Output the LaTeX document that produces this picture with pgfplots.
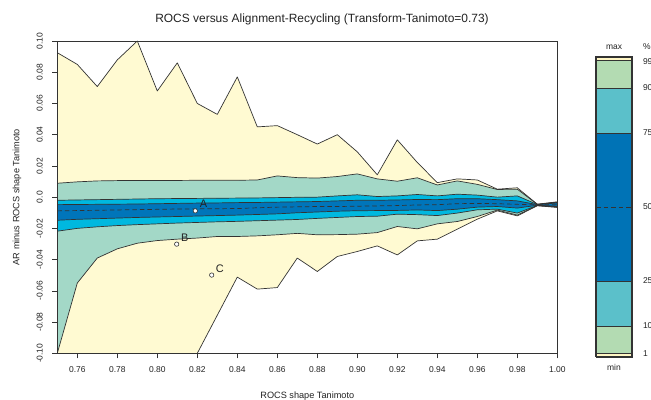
\documentclass[border=0pt]{standalone}
\usepackage{fontspec}
\setmainfont{Liberation Sans}
\usepackage{pgfplots}
\pgfplotsset{compat=1.18}
\usepackage{pgfplotstable}
\usepgfplotslibrary{fillbetween}

\definecolor{cYel}{HTML}{FFFAD2}
\definecolor{cTeal}{HTML}{A3D8C7}
\definecolor{cCyan}{HTML}{00B8DF}
\definecolor{cBlue}{HTML}{0075BA}
\definecolor{lYel}{HTML}{FFF6C4}
\definecolor{lGreen}{HTML}{B3DBB2}
\definecolor{lCyan}{HTML}{5BC0CA}
\definecolor{lBlue}{HTML}{0073B6}
\definecolor{lineC}{HTML}{333333}
\definecolor{txtC}{HTML}{222222}

\pgfplotstableread{
x     mx      p99     p90     p75     med     p25     p10     p1      mn
0.75  0.0925  0.0089 -0.0020 -0.0048 -0.0088 -0.0148 -0.0218 -0.1000 -0.1300
0.76  0.0850  0.0098 -0.0018 -0.0047 -0.0086 -0.0142 -0.0200 -0.0550 -0.1300
0.77  0.0708  0.0104 -0.0016 -0.0046 -0.0084 -0.0138 -0.0190 -0.0390 -0.1300
0.78  0.0879  0.0106 -0.0014 -0.0045 -0.0082 -0.0134 -0.0182 -0.0331 -0.1300
0.79  0.1000  0.0106 -0.0012 -0.0044 -0.0080 -0.0130 -0.0176 -0.0295 -0.1300
0.80  0.0680  0.0106 -0.0010 -0.0042 -0.0078 -0.0127 -0.0171 -0.0278 -0.1300
0.81  0.0860  0.0107 -0.0009 -0.0040 -0.0076 -0.0124 -0.0166 -0.0269 -0.1300
0.82  0.0600  0.0108 -0.0008 -0.0038 -0.0075 -0.0121 -0.0162 -0.0262 -0.1000
0.83  0.0530  0.0108 -0.0007 -0.0037 -0.0074 -0.0118 -0.0158 -0.0252 -0.0756
0.84  0.0770  0.0108 -0.0006 -0.0035 -0.0073 -0.0115 -0.0155 -0.0252 -0.0512
0.85  0.0450  0.0110 -0.0005 -0.0034 -0.0068 -0.0111 -0.0151 -0.0248 -0.0589
0.86  0.0458  0.0136 -0.0003 -0.0032 -0.0064 -0.0107 -0.0147 -0.0241 -0.0579
0.87  0.0400  0.0125 -0.0001 -0.0030 -0.0062 -0.0100 -0.0143 -0.0232 -0.0390
0.88  0.0340  0.0122  0.0000 -0.0028 -0.0060 -0.0095 -0.0136 -0.0241 -0.0476
0.89  0.0400  0.0132  0.0008 -0.0024 -0.0060 -0.0090 -0.0130 -0.0240 -0.0380
0.90  0.0290  0.0149  0.0015 -0.0020 -0.0058 -0.0087 -0.0124 -0.0237 -0.0348
0.91  0.0143  0.0117  0.0004 -0.0020 -0.0056 -0.0086 -0.0122 -0.0227 -0.0312
0.92  0.0367  0.0102  0.0008 -0.0018 -0.0054 -0.0085 -0.0109 -0.0188 -0.0370
0.93  0.0222  0.0124  0.0017 -0.0015 -0.0050 -0.0082 -0.0112 -0.0203 -0.0280
0.94  0.0093  0.0078  0.0008 -0.0016 -0.0048 -0.0086 -0.0118 -0.0171 -0.0269
0.95  0.0117  0.0104  0.0019 -0.0010 -0.0042 -0.0077 -0.0102 -0.0156 -0.0205
0.96  0.0110  0.0082  0.0013 -0.0010 -0.0040 -0.0064 -0.0081 -0.0124 -0.0141
0.97  0.0051  0.0049  0.0000 -0.0016 -0.0042 -0.0060 -0.0077 -0.0083 -0.0088
0.98  0.0060  0.0051  0.0008 -0.0024 -0.0046 -0.0070 -0.0102 -0.0115 -0.0120
0.99 -0.0045 -0.0046 -0.0047 -0.0048 -0.0050 -0.0052 -0.0053 -0.0054 -0.0055
1.00 -0.0030 -0.0032 -0.0034 -0.0037 -0.0048 -0.0058 -0.0061 -0.0064 -0.0066
}\bands

\begin{document}
\begin{tikzpicture}
\begin{axis}[
  at={(57.3bp,46.7bp)}, anchor=south west,
  scale only axis, width=500bp, height=312.3bp,
  xmin=0.75, xmax=1.00, ymin=-0.10, ymax=0.10,
  xtick={0.76,0.78,0.80,0.82,0.84,0.86,0.88,0.90,0.92,0.94,0.96,0.98,1.00},
  xticklabels={0.76,0.78,0.80,0.82,0.84,0.86,0.88,0.90,0.92,0.94,0.96,0.98,1.00},
  ytick={-0.10,-0.08,-0.06,-0.04,-0.02,0,0.02,0.04,0.06,0.08,0.10},
  yticklabels={-0.10,-0.08,-0.06,-0.04,-0.02,0.0,0.02,0.04,0.06,0.08,0.10},
  xtick pos=bottom, ytick pos=left,
  tick align=outside, major tick length=5bp,
  tick style={draw=lineC, line width=0.6bp},
  axis line style={draw=lineC, line width=0.8bp},
  axis on top,
  ticklabel style={font=\fontsize{8.5}{10}\selectfont, text=txtC},
  xticklabel style={anchor=north, yshift=-5bp},
  yticklabel style={xshift=-6bp, rotate=90, anchor=south},
  title={ROCS versus Alignment-Recycling (Transform-Tanimoto=0.73)},
  title style={at={(axis description cs:0.5294,1.051)}, anchor=center,
    font=\fontsize{12}{14}\selectfont, text=txtC},
  xlabel={ROCS shape Tanimoto},
  xlabel style={at={(axis description cs:0.5,-0.1358)}, anchor=center,
    font=\fontsize{9.2}{11}\selectfont, text=txtC},
  ylabel={AR minus ROCS shape Tanimoto},
  ylabel style={at={(axis description cs:-0.0806,0.5)}, anchor=center,
    font=\fontsize{9.2}{11}\selectfont, text=txtC},
]
\addplot[name path=mx, draw=none, forget plot] table[x=x,y=mx]{\bands};
\addplot[name path=p99, draw=none, forget plot] table[x=x,y=p99]{\bands};
\addplot[name path=p90, draw=none, forget plot] table[x=x,y=p90]{\bands};
\addplot[name path=p75, draw=none, forget plot] table[x=x,y=p75]{\bands};
\addplot[name path=p25, draw=none, forget plot] table[x=x,y=p25]{\bands};
\addplot[name path=p10, draw=none, forget plot] table[x=x,y=p10]{\bands};
\addplot[name path=p1, draw=none, forget plot] table[x=x,y=p1]{\bands};
\addplot[name path=mn, draw=none, forget plot] table[x=x,y=mn]{\bands};

\addplot[cYel, draw=none] fill between[of=mx and mn];
\addplot[cTeal, draw=none] fill between[of=p99 and p1];
\addplot[cCyan, draw=none] fill between[of=p90 and p10];
\addplot[cBlue, draw=none] fill between[of=p75 and p25];

\pgfplotsset{bandline/.style={lineC, line width=0.7bp, mark=none, line join=round}}
\addplot[bandline] table[x=x,y=mx]{\bands};
\addplot[bandline] table[x=x,y=p99]{\bands};
\addplot[bandline] table[x=x,y=p90]{\bands};
\addplot[bandline] table[x=x,y=p75]{\bands};
\addplot[bandline, dash pattern=on 4.5bp off 3bp] table[x=x,y=med]{\bands};
\addplot[bandline] table[x=x,y=p25]{\bands};
\addplot[bandline] table[x=x,y=p10]{\bands};
\addplot[bandline] table[x=x,y=p1]{\bands};
\addplot[bandline] table[x=x,y=mn]{\bands};

\addplot[only marks, mark=*, mark size=2.2bp,
  mark options={fill=white, draw=lineC, line width=0.6bp},
  nodes near coords, point meta=explicit symbolic,
  every node near coord/.style={anchor=center, xshift=8.2bp, yshift=6.8bp,
    font=\fontsize{11}{12}\selectfont, text=txtC, inner sep=0pt}]
  table[x=x, y=y, meta=lab, row sep=\\]{
  x y lab\\
  0.8190 -0.0088 A\\
  0.8097 -0.0301 B\\
  0.8272 -0.0499 C\\
};
\end{axis}

% colour key
\begin{axis}[
  at={(596bp,43bp)}, anchor=south west,
  scale only axis, width=36bp, height=300bp,
  xmin=0, xmax=1, ymin=43, ymax=343,
  hide axis, clip=false,
]
\addplot[fill=lYel, draw=none] coordinates {(0,339.5) (1,339.5) (1,343) (0,343)};
\addplot[fill=lGreen, draw=none] coordinates {(0,312) (1,312) (1,339.5) (0,339.5)};
\addplot[fill=lCyan, draw=none] coordinates {(0,267) (1,267) (1,312) (0,312)};
\addplot[fill=lBlue, draw=none] coordinates {(0,119) (1,119) (1,267) (0,267)};
\addplot[fill=lCyan, draw=none] coordinates {(0,74) (1,74) (1,119) (0,119)};
\addplot[fill=lGreen, draw=none] coordinates {(0,46.5) (1,46.5) (1,74) (0,74)};
\addplot[fill=lYel, draw=none] coordinates {(0,43) (1,43) (1,46.5) (0,46.5)};
\pgfplotsset{keyline/.style={lineC, line width=0.7bp, mark=none}}
\addplot[keyline] coordinates {(0,339.5) (1,339.5)};
\addplot[keyline] coordinates {(0,312) (1,312)};
\addplot[keyline] coordinates {(0,267) (1,267)};
\addplot[keyline, dash pattern=on 4.5bp off 3bp] coordinates {(0,193) (1,193)};
\addplot[keyline] coordinates {(0,119) (1,119)};
\addplot[keyline] coordinates {(0,74) (1,74)};
\addplot[keyline] coordinates {(0,46.5) (1,46.5)};
\addplot[lineC, line width=1.1bp, mark=none] coordinates {(0,43) (1,43) (1,343) (0,343) (0,43)};
\begin{scope}[every node/.style={font=\fontsize{8.5}{10}\selectfont, text=txtC, anchor=west, inner sep=0pt}]
\node at (axis cs:1.3,338) {99};
\node at (axis cs:1.3,312) {90};
\node at (axis cs:1.3,267) {75};
\node at (axis cs:1.3,193) {50};
\node at (axis cs:1.3,119) {25};
\node at (axis cs:1.3,74) {10};
\node at (axis cs:1.3,46.5) {1};
\node at (axis cs:1.3,353) {\%};
\node[anchor=center] at (axis cs:0.5,353) {max};
\node[anchor=center] at (axis cs:0.5,33) {min};
\end{scope}
\end{axis}
\pgfresetboundingbox
\useasboundingbox (0bp,0bp) rectangle (651bp,400bp);
\end{tikzpicture}
\end{document}
